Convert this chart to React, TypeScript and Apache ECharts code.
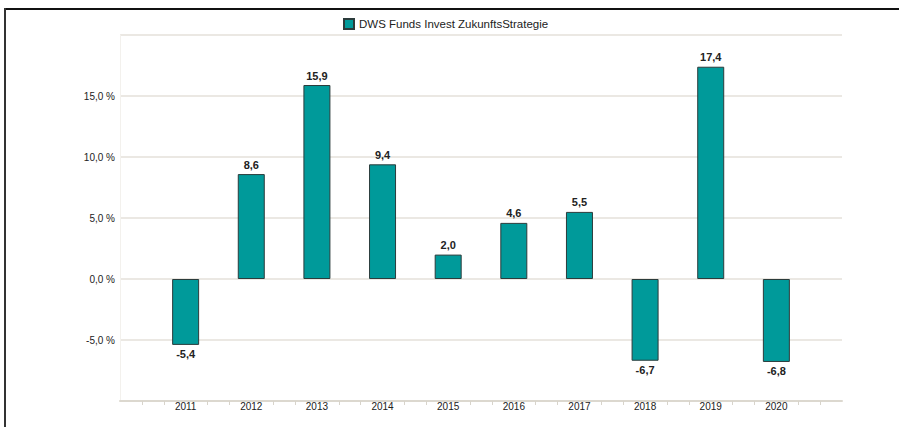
import React, { useEffect, useRef } from "react";
import * as echarts from "echarts";

const years = [2011, 2012, 2013, 2014, 2015, 2016, 2017, 2018, 2019, 2020];
const returns = [-5.4, 8.6, 15.9, 9.4, 2.0, 4.6, 5.5, -6.7, 17.4, -6.8];
const seriesName = "DWS Funds Invest ZukunftsStrategie";
const yTicks = [-10, -5, 0, 5, 10, 15, 20];

const FONT = 'Arial, "Liberation Sans", sans-serif';
const fmt = (v: number, d: number) => v.toFixed(d).replace(".", ",");

export default function App() {
  const ref = useRef<HTMLDivElement>(null);
  useEffect(() => {
    if (!ref.current) return;
    const chart = echarts.init(ref.current, undefined, { renderer: "svg" });
    chart.setOption({
      animation: false,
      backgroundColor: "#ffffff",
      textStyle: { fontFamily: FONT },
      legend: {
        top: 13,
        left: 338,
        itemWidth: 10,
        itemHeight: 10,
        itemGap: 6,
        icon: "rect",
        textStyle: { fontSize: 11.5, color: "#222", fontFamily: FONT },
        data: [seriesName],
      },
      grid: { left: 120, right: 57, top: 35, bottom: 26, containLabel: false },
      xAxis: {
        type: "value",
        min: years[0] - 1,
        max: years[years.length - 1] + 1,
        interval: 1,
        axisLine: { show: true, onZero: false, lineStyle: { color: "#dcd8cf", width: 2 } },
        axisTick: { show: false },
        minorTick: { show: true, splitNumber: 3, length: 4, lineStyle: { color: "#d8d4cb", width: 1 } },
        splitLine: { show: false },
        axisLabel: {
          fontSize: 10,
          color: "#222",
          margin: 0,
          fontFamily: FONT,
          formatter: (v: number) => (years.indexOf(v) >= 0 ? String(v) : ""),
        },
      },
      yAxis: {
        type: "value",
        min: yTicks[0],
        max: yTicks[yTicks.length - 1],
        interval: 5,
        axisLine: { show: true, lineStyle: { color: "#f3f1ed", width: 1 } },
        axisTick: { show: false },
        splitLine: { show: true, lineStyle: { color: "#e4e1da", width: 1.5 } },
        axisLabel: {
          fontSize: 10,
          color: "#222",
          margin: 5,
          fontFamily: FONT,
          showMinLabel: false,
          showMaxLabel: false,
          formatter: (v: number) => fmt(v, 1) + " %",
        },
      },
      series: [
        {
          name: seriesName,
          type: "bar",
          barWidth: 27,
          itemStyle: { color: "#009a9a", borderColor: "#2b3b3b", borderWidth: 1 },
          label: {
            show: true,
            fontSize: 11,
            fontWeight: "bold",
            color: "#222",
            fontFamily: FONT,
            distance: 4,
            formatter: (p: any) => fmt(p.value[1], 1),
          },
          data: years.map((y, i) => ({
            value: [y, returns[i]],
            label: { position: returns[i] < 0 ? "bottom" : "top" },
          })),
        },
      ],
      graphic: [
        { type: "line", shape: { x1: 4, y1: 9, x2: 899, y2: 9 }, style: { stroke: "#111", lineWidth: 2 }, silent: true },
        { type: "line", shape: { x1: 5, y1: 8, x2: 5, y2: 427 }, style: { stroke: "#333", lineWidth: 2 }, silent: true },
      ],
    });
    return () => chart.dispose();
  }, []);
  return (
    <div
      ref={ref}
      style={{ position: "fixed", left: 0, top: 0, width: 899, height: 427 }}
    />
  );
}
